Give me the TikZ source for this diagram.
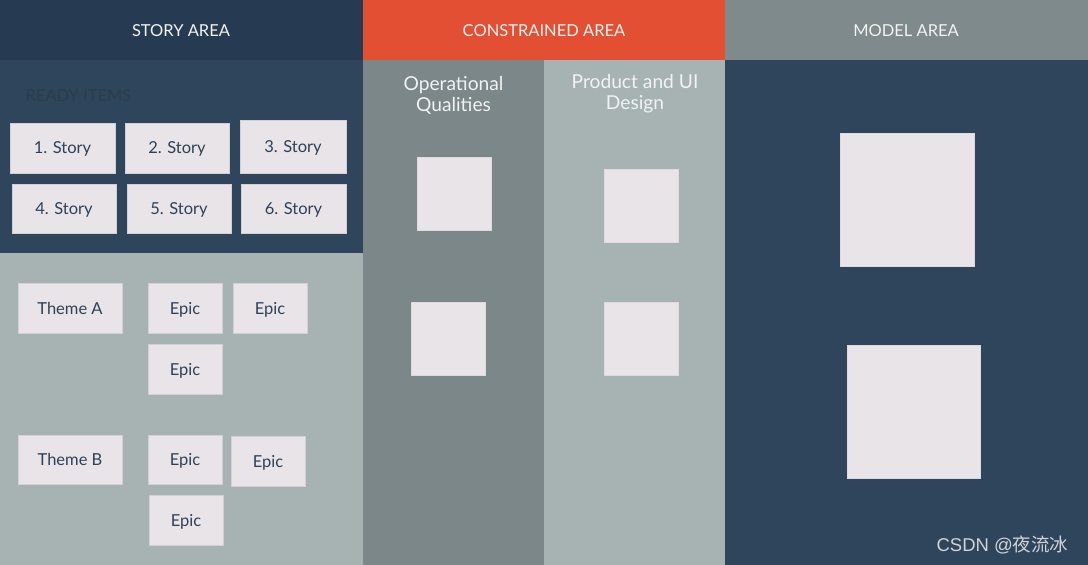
\documentclass[tikz,border=0pt]{standalone}
\usepackage{fontspec}
\setmainfont{Lato}
\newfontfamily\cjk{Noto Sans CJK SC}
\definecolor{hdrdark}{HTML}{263B51}
\definecolor{hdrred}{HTML}{E34F33}
\definecolor{hdrgray}{HTML}{7E8A8B}
\definecolor{navy}{HTML}{2F455C}
\definecolor{slate}{HTML}{7B8789}
\definecolor{sage}{HTML}{A7B3B3}
\definecolor{card}{HTML}{E9E4E8}
\definecolor{cardtext}{HTML}{2F4157}
\definecolor{headtext}{HTML}{F2F2F2}
\definecolor{faint}{HTML}{2C3C4C}
\definecolor{wm}{HTML}{D0D4D8}
\begin{document}
\begin{tikzpicture}[x=1pt,y=-1pt,
  region/.style={draw=none,inner sep=0pt,outer sep=0pt,anchor=north west},
  headtxt/.style={text=headtext,font=\fontsize{16.5}{20}\selectfont},
  card/.style={fill=card,draw=card!85!black!60!card,line width=0.6pt,inner sep=0pt,
     text depth=0pt,text=cardtext,font=\fontsize{16.5}{20}\selectfont},
  sq/.style={fill=card,draw=card!90!gray,line width=0.6pt,inner sep=0pt},
  coltitle/.style={text=headtext,align=center,font=\fontsize{19.2}{20.5}\selectfont}
]
\useasboundingbox (0,0) rectangle (1088,565);
% backgrounds
\node[region,fill=hdrdark,minimum width=363pt,minimum height=60pt] (hs) at (0,0) {};
\node[region,fill=hdrred,minimum width=362pt,minimum height=60pt] (hc) at (363,0) {};
\node[region,fill=hdrgray,minimum width=363pt,minimum height=60pt] (hm) at (725,0) {};
\node[region,fill=navy,minimum width=363pt,minimum height=193pt] (ready) at (0,60) {};
\node[region,fill=sage,minimum width=363pt,minimum height=312pt] (themes) at (0,253) {};
\node[region,fill=slate,minimum width=181pt,minimum height=505pt] (ops) at (363,60) {};
\node[region,fill=sage,minimum width=181pt,minimum height=505pt] (prod) at (544,60) {};
\node[region,fill=navy,minimum width=363pt,minimum height=505pt] (model) at (725,60) {};
% header texts
\node[headtxt] (t1) at (181,31) {STORY AREA};
\node[headtxt] (t2) at (544,31) {CONSTRAINED AREA};
\node[headtxt] (t3) at (906,31) {MODEL AREA};
% ready items
\node[text=faint,font=\fontsize{16.5}{20}\selectfont] (ri) at (78.5,96) {READY ITEMS};
\node[card,minimum width=105pt,minimum height=50pt] (s1) at (62.5,148) {1. Story};
\node[card,minimum width=104pt,minimum height=50pt] (s2) at (177,148) {2. Story};
\node[card,minimum width=106pt,minimum height=53pt] (s3) at (293,146.5) {3. Story};
\node[card,minimum width=104pt,minimum height=49pt] (s4) at (64,208.5) {4. Story};
\node[card,minimum width=104pt,minimum height=49pt] (s5) at (179,208.5) {5. Story};
\node[card,minimum width=105pt,minimum height=49pt] (s6) at (293.5,208.5) {6. Story};
% themes
\node[card,minimum width=104pt,minimum height=50pt] (ta) at (70,308) {Theme A};
\node[card,minimum width=74pt,minimum height=50pt] (ea1) at (185,308) {Epic};
\node[card,minimum width=74pt,minimum height=50pt] (ea2) at (270,308) {Epic};
\node[card,minimum width=74pt,minimum height=50pt] (ea3) at (185,369) {Epic};
\node[card,minimum width=104pt,minimum height=49pt] (tb) at (70,459.5) {Theme B};
\node[card,minimum width=74pt,minimum height=49pt] (eb1) at (185,459.5) {Epic};
\node[card,minimum width=74pt,minimum height=50pt] (eb2) at (268,461) {Epic};
\node[card,minimum width=74pt,minimum height=50pt] (eb3) at (186,520) {Epic};
% constrained area
\node[coltitle] (opt) at (453.5,95.5) {Operational\\Qualities};
\node[coltitle] (pdt) at (635,93.5) {Product and UI\\Design};
\node[sq,minimum width=74pt,minimum height=73pt] (o1) at (454,193.5) {};
\node[sq,minimum width=74pt,minimum height=73pt] (o2) at (448,338.5) {};
\node[sq,minimum width=74pt,minimum height=73pt] (p1) at (641,205.5) {};
\node[sq,minimum width=74pt,minimum height=73pt] (p2) at (641,338.5) {};
% model area
\node[sq,minimum width=134pt,minimum height=133pt] (m1) at (907,199.5) {};
\node[sq,minimum width=133pt,minimum height=133pt] (m2) at (913.5,411.5) {};
% watermark
\node[text=wm,anchor=east,font=\fontsize{18.5}{20}\selectfont] (wmk) at (1072,545) {\fontspec{Liberation Sans}CSDN @\cjk 夜流冰};
\end{tikzpicture}
\end{document}
